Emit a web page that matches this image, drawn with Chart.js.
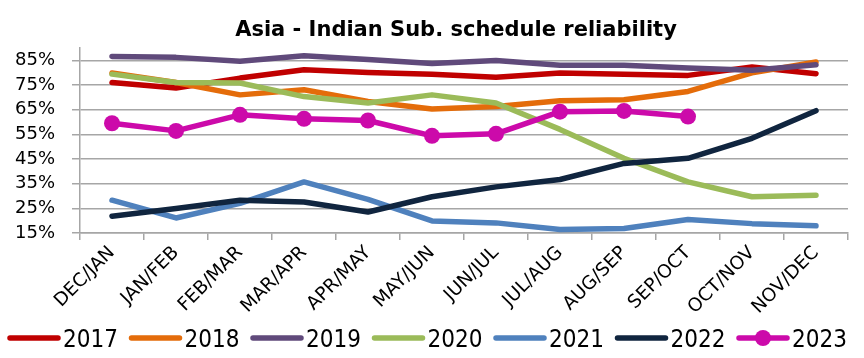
<!DOCTYPE html>
<html>
<head>
<meta charset="utf-8">
<script src="https://cdn.jsdelivr.net/npm/chart.js@4.4.0/dist/chart.umd.min.js"></script>
<style>
  html, body { margin: 0; padding: 0; background: #fff; }
  canvas { display: block; }
</style>
</head>
<body>
<canvas id="reliabilityChart" width="864" height="358"></canvas>
<script>
// Asia - Indian Sub. schedule reliability (%)
var chartTitle = 'Asia - Indian Sub. schedule reliability';
var periods = ['DEC/JAN', 'JAN/FEB', 'FEB/MAR', 'MAR/APR', 'APR/MAY', 'MAY/JUN',
  'JUN/JUL', 'JUL/AUG', 'AUG/SEP', 'SEP/OCT', 'OCT/NOV', 'NOV/DEC'];
var yTicks = [15, 25, 35, 45, 55, 65, 75, 85];

var years = ['2017', '2018', '2019', '2020', '2021', '2022', '2023'];
var r2017 = [76, 73.8, 77.8, 81.2, 80.1, 79.4, 78.1, 79.9, 79.4, 78.9, 82.3, 79.6];
var r2018 = [79.9, 76, 71, 73.1, 68.3, 65.3, 66.3, 68.6, 69, 72.4, 79.9, 84.3];
var r2019 = [86.6, 86.2, 84.6, 86.9, 85.3, 83.7, 84.9, 83, 83, 81.9, 81, 83.2];
var r2020 = [79.4, 76, 75.8, 70.3, 67.7, 71, 67.7, 57, 45.3, 35.7, 29.7, 30.3];
var r2021 = [28.3, 21.1, 27, 35.7, 28.6, 19.9, 19.1, 16.4, 16.8, 20.5, 18.8, 17.9];
var r2022 = [21.8, 24.9, 28.3, 27.6, 23.5, 29.7, 33.7, 36.7, 43.2, 45.3, 53.4, 64.6];
var r2023 = [59.5, 56.4, 62.9, 61.3, 60.6, 54.4, 55.2, 64.2, 64.5, 62.2, null, null];

var seriesData = [r2017, r2018, r2019, r2020, r2021, r2022, r2023];
var colors = ['#C00000', '#E46C0A', '#604A7B', '#9BBB59', '#4F81BD', '#10253F', '#CC0AAA'];
var gridGrey = '#a6a6a6';

// titre dessiné à la main : centré sur la zone de tracé, pas sur le canvas
var titlePlugin = {
  id: 'plotTitle',
  afterDraw: function (chart) {
    var ctx = chart.ctx;
    ctx.save();
    ctx.font = 'bold 21px "DejaVu Sans"';
    ctx.fillStyle = '#000';
    ctx.textAlign = 'center';
    ctx.textBaseline = 'alphabetic';
    ctx.fillText(chartTitle, 456, 36);
    ctx.restore();
  }
};

// légende façon Excel en bas
var legendPlugin = {
  id: 'bottomLegend',
  afterDraw: function (chart) {
    var ctx = chart.ctx;
    ctx.save();
    chart.data.datasets.forEach(function (ds, i) {
      var x = 8 + i * 121.5;
      var y = 338;
      ctx.strokeStyle = ds.borderColor;
      ctx.lineWidth = 5.5;
      ctx.lineCap = 'round';
      ctx.beginPath();
      ctx.moveTo(x + 2, y);
      ctx.lineTo(x + 50, y);
      ctx.stroke();
      if (ds.pointRadius > 0) {
        ctx.fillStyle = ds.borderColor;
        ctx.beginPath();
        ctx.arc(x + 26, y, ds.pointRadius, 0, Math.PI * 2);
        ctx.fill();
      }
      ctx.fillStyle = '#000';
      ctx.font = '24px "Liberation Sans Narrow", "DejaVu Sans Condensed", sans-serif';
      ctx.textAlign = 'left';
      ctx.textBaseline = 'alphabetic';
      ctx.fillText(ds.label, x + 55, y + 9);
    });
    ctx.restore();
  }
};

var ctx = document.getElementById('reliabilityChart');

new Chart(ctx, {
  type: 'line',
  data: {
    labels: periods,
    datasets: years.map(function (year, i) {
      var isLast = i === years.length - 1;
      return {
        label: year,
        data: seriesData[i],
        borderColor: colors[i],
        backgroundColor: colors[i],
        borderWidth: 5.5,
        borderCapStyle: 'round',
        borderJoinStyle: 'round',
        tension: 0,
        pointRadius: isLast ? 8 : 0,
        pointBorderWidth: 0,
        pointBackgroundColor: colors[i],
        pointHoverRadius: isLast ? 8 : 0,
        spanGaps: false,
        order: years.length - i
      };
    })
  },
  options: {
    responsive: false,
    animation: false,
    layout: {
      padding: { top: 48, right: 16, bottom: 45, left: 0 }
    },
    plugins: {
      legend: { display: false },
      title: { display: false },
      tooltip: { enabled: false }
    },
    scales: {
      x: {
        offset: true,
        grid: {
          offset: true,
          drawOnChartArea: false,
          drawTicks: true,
          tickLength: 7,
          color: gridGrey,
          lineWidth: 1.5
        },
        border: { display: true, color: gridGrey, width: 1.5 },
        ticks: {
          autoSkip: false,
          minRotation: 45,
          maxRotation: 45,
          padding: 2,
          color: '#000',
          font: { family: 'DejaVu Sans', size: 18.5 }
        },
        afterFit: function (scale) { scale.height = 80; }
      },
      y: {
        min: 15,
        max: 90,
        afterBuildTicks: function (scale) {
          scale.ticks = yTicks.map(function (v) { return { value: v }; });
        },
        grid: {
          color: gridGrey,
          lineWidth: 1.5,
          tickLength: 8
        },
        border: { display: true, color: gridGrey, width: 1.5 },
        ticks: {
          padding: 17,
          color: '#000',
          font: { family: 'DejaVu Sans', size: 18 },
          callback: function (v) { return v + '%'; }
        },
        afterFit: function (scale) { scale.width = 80; }
      }
    }
  },
  plugins: [titlePlugin, legendPlugin]
});
</script>
</body>
</html>
